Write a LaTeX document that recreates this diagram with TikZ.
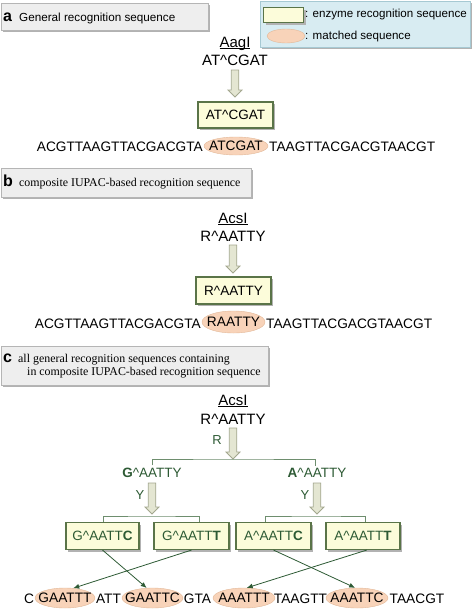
\documentclass[tikz,border=0pt]{standalone}
\usepackage{fontspec}
\setmainfont{Liberation Sans}
\newfontfamily\seriffont{Liberation Serif}
\usetikzlibrary{arrows.meta,shapes.geometric,shadows}
\definecolor{dgreen}{HTML}{2D5A34}
\definecolor{boxborder}{HTML}{5A7448}
\definecolor{boxfill}{HTML}{FCFCDA}
\definecolor{ellfill}{HTML}{F8D3B9}
\definecolor{elldraw}{HTML}{E2B898}
\definecolor{legfill}{HTML}{D8ECF2}
\definecolor{legdraw}{HTML}{A6C9D3}
\definecolor{labfill}{HTML}{EEEEEE}
\definecolor{labdraw}{HTML}{B5B5B5}
\definecolor{arrfill}{HTML}{E4E6D2}
\definecolor{arrdraw}{HTML}{A3A78E}
\definecolor{brkcol}{HTML}{6E8E6E}
\newcommand\fs[1]{\fontsize{#1}{#1}\selectfont}
\newcommand\crt{\textasciicircum}
\newcommand\zw[1]{\makebox[0pt]{#1}}
\newcommand\ul[1]{\underline{\smash{#1}}}
\newcommand\blockarrow[3]{\filldraw[blockarr] (#1-3.75,#2) -- (#1+3.75,#2) -- (#1+3.75,#3-7) -- (#1+7,#3-7) -- (#1,#3) -- (#1-7,#3-7) -- (#1-3.75,#3-7) -- cycle;}
\tikzset{
  shad/.style={drop shadow={shadow xshift=2pt,shadow yshift=-2pt,fill=gray!60,opacity=1}},
  labbox/.style={draw=labdraw, fill=labfill, anchor=north west, inner sep=0, shad},
  labletter/.style={anchor=base west, inner sep=0, font=\fs{16}\bfseries},
  labtext/.style={anchor=base west, inner sep=0, font=\fs{11.7}},
  labserif/.style={anchor=base west, inner sep=0, font=\fs{11.9}\seriffont},
  legtext/.style={anchor=west, inner sep=0, font=\fs{11.6}},
  seqtext/.style={inner sep=0, anchor=base, font=\fs{13.7}},
  enzname/.style={inner sep=0, anchor=base, font=\fs{15}},
  enzbox/.style={draw=boxborder, fill=boxfill, line width=1.1pt, minimum width=75pt, minimum height=27pt, inner sep=0, font=\fs{13.5}, shad},
  match/.style={ellipse, draw=elldraw, fill=ellfill, inner sep=0, font=\fs{13.7}},
  lettr/.style={inner sep=0, anchor=base, font=\fs{13}, text=dgreen},
  childtext/.style={inner sep=0, anchor=base, font=\fs{13.5}, text=dgreen},
  blockarr/.style={draw=arrdraw, fill=arrfill, line width=0.8pt},
  brk/.style={draw=brkcol, line width=0.9pt},
  conn/.style={draw=dgreen, line width=0.8pt, -{Latex[length=6pt,width=5pt]}},
}
\begin{document}
\begin{tikzpicture}[x=1pt,y=-1pt]
\useasboundingbox (0,0) rectangle (472,611);

% legend
\node[draw=legdraw, fill=legfill, anchor=north west, inner sep=0, minimum width=210pt, minimum height=46pt, shad] (leg) at (260,1) {};
\node[draw=boxborder, fill=boxfill, line width=1pt, anchor=north west, inner sep=0, minimum width=40pt, minimum height=15pt, shad] (legbox) at (263,7) {};
\node[legtext] (legt1) at (305,14.5) {: enzyme recognition sequence};
\node[match, minimum width=38pt, minimum height=14pt] (legell) at (286,36) {};
\node[legtext] (legt2) at (305,36) {: matched sequence};

% section a
\node[labbox, minimum width=207pt, minimum height=27pt] (la) at (1,3) {};
\node[labletter] (laa) at (3,21) {a};
\node[labtext] (lat) at (19,21) {General recognition sequence};
\node[enzname] (aag) at (235,47) {\ul{AagI}};
\node[enzname] (s1) at (235,65.5) {AT\crt CGAT};
\blockarrow{235}{70}{97}
\node[enzbox, minimum height=26pt] (b1) at (235.5,115) {AT\crt CGAT};
\node[seqtext, anchor=base east] (s1l) at (203,151) {ACGTTAAGTTACGACGTA};
\node[match, minimum width=64pt, minimum height=18pt] (m1) at (236,146) {\zw{ATCGAT}};
\node[seqtext, anchor=base west] (s1r) at (269,151) {TAAGTTACGACGTAACGT};

% section b
\node[labbox, minimum width=250pt, minimum height=29pt] (lb) at (1,168) {};
\node[labletter] (lbb) at (3,186.5) {b};
\node[labserif] (lbt) at (19,186) {composite IUPAC-based recognition sequence};
\node[enzname] (acs2) at (233,223) {\ul{AcsI}};
\node[enzname] (s2) at (233,241.5) {R\crt AATTY};
\blockarrow{233}{245}{273}
\node[enzbox] (b2) at (233.5,290.5) {R\crt AATTY};
\node[seqtext, anchor=base east] (s2l) at (201,328) {ACGTTAAGTTACGACGTA};
\node[match, minimum width=63pt, minimum height=22pt] (m2) at (233.5,322) {\zw{RAATTY}};
\node[seqtext, anchor=base west] (s2r) at (266,328) {TAAGTTACGACGTAACGT};

% section c
\node[labbox, minimum width=267pt, minimum height=39pt] (lc) at (1,346) {};
\node[labletter] (lcc) at (3,362) {c};
\node[labserif] (lct1) at (18,362) {all general recognition sequences containing};
\node[labserif] (lct2) at (27,375) {in composite IUPAC-based recognition sequence};
\node[enzname] (acs3) at (233,405) {\ul{AcsI}};
\node[enzname] (s3) at (233,424.5) {R\crt AATTY};
\blockarrow{233}{428}{459}
\node[lettr] (rl) at (217,444.5) {R};
\coordinate (r3tip) at (233,459);
\node[childtext] (gy) at (152,477) {\textbf{G}\crt AATTY};
\node[childtext] (ay) at (317,477) {\textbf{A}\crt AATTY};
\draw[brk] ([yshift=2pt]gy.north) |- (r3tip) -| ([yshift=2pt,xshift=-2pt]ay.north);

\node[lettr] (yl1) at (140,499.5) {Y};
\blockarrow{152}{483}{514}
\coordinate (y1) at (152,516);
\node[lettr] (yl2) at (305,499.5) {Y};
\blockarrow{317}{483}{514}
\coordinate (y2) at (317,516);

\node[enzbox, text=dgreen, minimum width=73pt] (gc) at (102.5,536) {G\crt AATT\textbf{C}};
\node[enzbox, text=dgreen] (gt) at (191.5,536) {G\crt AATT\textbf{T}};
\node[enzbox, text=dgreen] (ac) at (273.5,536) {A\crt AATT\textbf{C}};
\node[enzbox, text=dgreen, minimum width=74pt] (at) at (363,536) {A\crt AATT\textbf{T}};
\draw[brk] ([xshift=0.5pt]gc.north) |- (y1) -| ([xshift=7.5pt]gt.north);
\draw[brk] ([xshift=-8.5pt]ac.north) |- (y2) -| ([xshift=2pt]at.north);

% bottom sequence
\node[seqtext] (c0) at (29,603) {C};
\node[match, minimum width=60pt, minimum height=20pt] (e1) at (65,598) {\zw{GAATTT}};
\node[seqtext] (c1) at (108.5,603) {ATT};
\node[match, minimum width=61pt, minimum height=20pt] (e2) at (152.5,598) {\zw{GAATTC}};
\node[seqtext] (c2) at (197.5,603) {GTA};
\node[match, minimum width=62pt, minimum height=20pt] (e3) at (244,598) {\zw{AAATTT}};
\node[seqtext] (c3) at (300.5,603) {TAAGTT};
\node[match, minimum width=62pt, minimum height=20pt] (e4) at (357,598) {\zw{AAATTC}};
\node[seqtext] (c4) at (417,603) {TAACGT};

\draw[conn] (gc.south) -- (e2.120);
\draw[conn] (gt.south) -- (e1.50);
\draw[conn] (ac.south) -- (e4.100);
\draw[conn] (at.-75) -- (e3.75);
\end{tikzpicture}
\end{document}
